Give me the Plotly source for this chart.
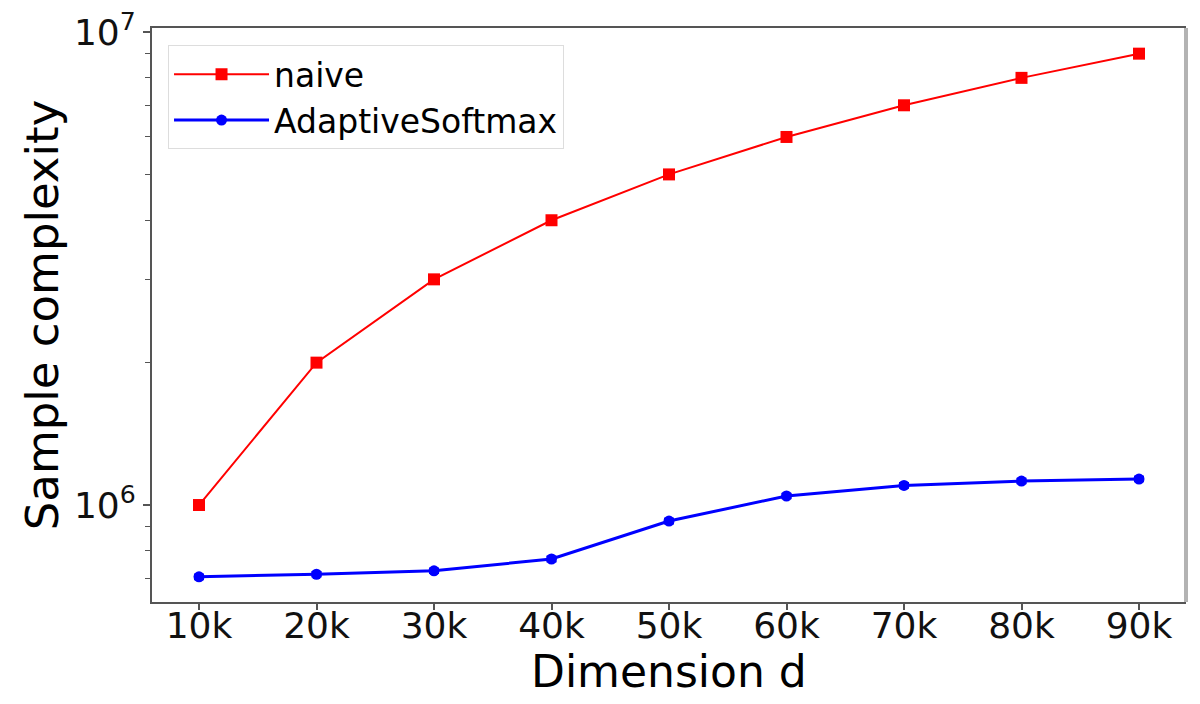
import plotly.graph_objects as go

dims = [10000, 20000, 30000, 40000, 50000, 60000, 70000, 80000, 90000]
dim_labels = ["10k", "20k", "30k", "40k", "50k", "60k", "70k", "80k", "90k"]
naive = [1.0e6, 2.0e6, 3.0e6, 4.0e6, 5.0e6, 6.0e6, 7.0e6, 8.0e6, 9.0e6]
adaptive = [705000, 714000, 726000, 769000, 925000, 1045000, 1100000, 1124000, 1135000]
adaptive_err = [9000, 9000, 9000, 10000, 12000, 13000, 14000, 14000, 14000]

font_family = "DejaVu Sans"

fig = go.Figure()
fig.add_trace(go.Scatter(
    x=dims, y=naive, name="naive", mode="lines+markers",
    line=dict(color="#ff0000", width=2),
    marker=dict(symbol="square", size=12, color="#ff0000"),
))
fig.add_trace(go.Scatter(
    x=dims, y=adaptive, name="AdaptiveSoftmax", mode="lines+markers",
    line=dict(color="#0000ff", width=3),
    marker=dict(symbol="circle", size=11, color="#0000ff"),
    error_y=dict(type="data", array=adaptive_err, color="#0000ff", thickness=1.5, width=5),
))

fig.update_layout(
    width=1200, height=704,
    margin=dict(l=144, r=22, t=20, b=110),
    paper_bgcolor="white", plot_bgcolor="white",
    font=dict(family=font_family, color="black"),
    showlegend=True,
    legend=dict(
        x=0.0155, y=0.97, xanchor="left", yanchor="top",
        bgcolor="white", bordercolor="#dddddd", borderwidth=1,
        itemwidth=95,
        font=dict(size=33, family=font_family, color="black"),
    ),
    xaxis=dict(
        range=[6000, 94000],
        tickmode="array", tickvals=dims, ticktext=dim_labels,
        tickfont=dict(size=36, family=font_family, color="#111111"),
        ticks="outside", ticklen=6, tickwidth=1.5, tickcolor="#555555",
        ticklabelstandoff=-15,
        showline=True, linecolor="#555555", linewidth=2, mirror=True,
        showgrid=False, zeroline=False, automargin=False,
    ),
    yaxis=dict(
        type="log",
        range=[5.795, 7.0085],
        tickmode="array", tickvals=[1e6, 1e7], ticktext=["10<sup>6</sup>", "10<sup>7</sup>"],
        tickfont=dict(size=36, family=font_family, color="#111111"),
        ticks="outside", ticklen=7, tickwidth=1.5, tickcolor="#555555",
        ticklabeloverflow="allow",
        minor=dict(ticks="outside", ticklen=5, tickwidth=1, tickcolor="#555555",
                   tickvals=[7e5, 8e5, 9e5, 2e6, 3e6, 4e6, 5e6, 6e6, 7e6, 8e6, 9e6], showgrid=False),
        showline=True, linecolor="#555555", linewidth=2, mirror=False,
        showgrid=False, zeroline=False, automargin=False,
        title=dict(text="Sample complexity", font=dict(size=45, family=font_family, color="black"), standoff=1),
    ),
    annotations=[dict(
        text="Dimension d", xref="paper", yref="paper", x=0.5, y=0,
        xanchor="center", yanchor="middle", yshift=-69, showarrow=False,
        font=dict(size=44, family=font_family, color="black"),
    )],
)

fig.add_shape(type="line", xref="paper", yref="paper", x0=1, x1=1, y0=0, y1=1,
              line=dict(color="#b3b3b3", width=4))

fig.write_html("out.html")
